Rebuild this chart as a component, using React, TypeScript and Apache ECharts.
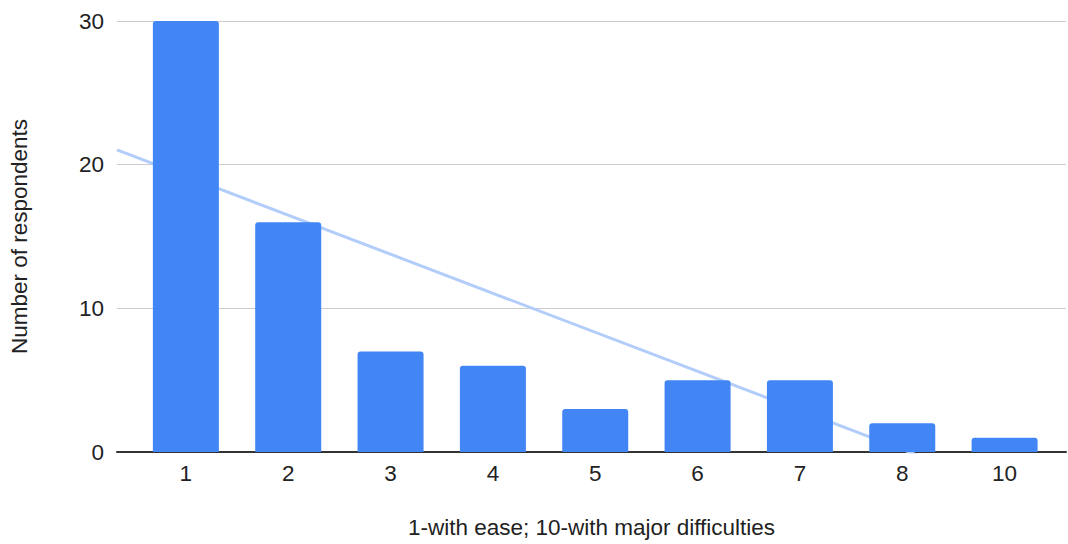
import React, { useEffect, useRef } from "react";
import * as echarts from "echarts";

const categories = ["1", "2", "3", "4", "5", "6", "7", "8", "10"];
const respondents = [30, 16, 7, 6, 3, 5, 5, 2, 1];
const yTicks = [0, 10, 20, 30];

const X_MIN = -0.673;
const X_MAX = 8.6;

function regression(ys: number[]) {
  const n = ys.length;
  const xs = ys.map((_, i) => i);
  const mx = xs.reduce((a, b) => a + b, 0) / n;
  const my = ys.reduce((a, b) => a + b, 0) / n;
  let sxy = 0;
  let sxx = 0;
  for (let i = 0; i < n; i++) {
    sxy += (xs[i] - mx) * (ys[i] - my);
    sxx += (xs[i] - mx) * (xs[i] - mx);
  }
  const slope = sxy / sxx;
  const intercept = my - slope * mx;
  return (x: number) => intercept + slope * x;
}

export default function App() {
  const ref = useRef<HTMLDivElement>(null);
  useEffect(() => {
    if (!ref.current) return;
    const chart = echarts.init(ref.current, null, { renderer: "svg" });
    const f = regression(respondents);
    const font = "'Liberation Sans', Arial, sans-serif";
    const fs = 22.5;
    chart.setOption({
      animation: false,
      textStyle: { fontFamily: font },
      grid: { left: 116, right: 2, top: 21, bottom: 92, containLabel: false },
      xAxis: {
        type: "value",
        min: X_MIN,
        max: X_MAX,
        name: "1-with ease; 10-with major difficulties",
        nameLocation: "middle",
        nameGap: 64,
        nameTextStyle: { color: "#222", fontSize: fs, fontFamily: font },
        axisLine: { show: true, onZero: false, lineStyle: { color: "#333", width: 2 } },
        axisTick: { show: false },
        splitLine: { show: false },
        axisLabel: {
          customValues: categories.map((_, i) => i),
          formatter: (v: number) => categories[Math.round(v)] ?? "",
          color: "#222",
          fontSize: fs,
          margin: 10,
          fontFamily: font,
        },
      },
      yAxis: {
        type: "value",
        min: 0,
        max: 30,
        interval: 10,
        name: "Number of respondents",
        nameLocation: "middle",
        nameGap: 86,
        nameRotate: 90,
        nameTextStyle: { color: "#222", fontSize: fs, fontFamily: font },
        axisLine: { show: false },
        axisTick: { show: false },
        axisLabel: {
          color: "#222",
          fontSize: fs,
          margin: 13,
          fontFamily: font,
          formatter: (v: number) => (yTicks.includes(v) ? String(v) : ""),
        },
        splitLine: { show: true, lineStyle: { color: "#cccccc", width: 1 } },
      },
      series: [
        {
          type: "line",
          data: [
            [X_MIN, f(X_MIN)],
            [X_MAX, f(X_MAX)],
          ],
          symbol: "none",
          clip: true,
          z: 1,
          lineStyle: { color: "#b3cdfb", width: 3 },
        },
        {
          type: "bar",
          data: respondents.map((v, i) => [i, v]),
          barWidth: 66,
          z: 2,
          itemStyle: { color: "#4285f4", borderRadius: [3, 3, 0, 0] },
        },
      ],
    });
    return () => chart.dispose();
  }, []);
  return <div ref={ref} style={{ width: 1068, height: 544, position: "absolute", left: 0, top: 0 }} />;
}
